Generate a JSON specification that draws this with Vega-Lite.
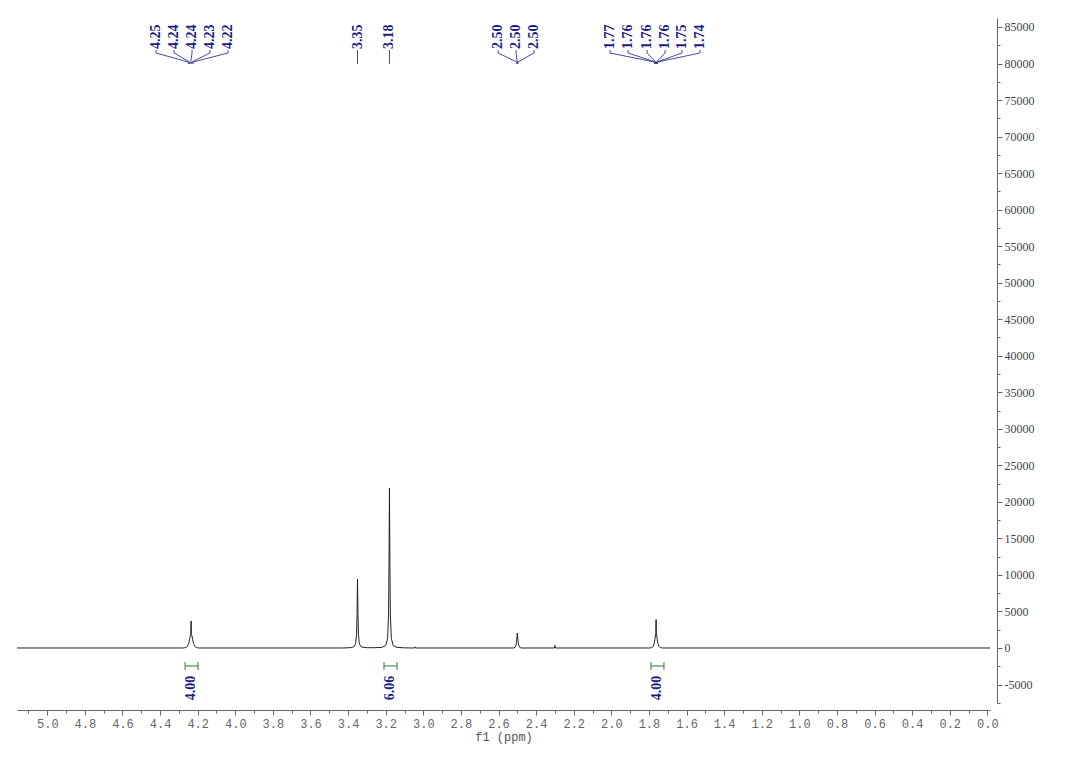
{
  "$schema": "https://vega.github.io/schema/vega-lite/v6.json",
  "width": 973,
  "height": 685,
  "autosize": {"type": "none"},
  "padding": {"left": 17, "top": 18, "right": 90, "bottom": 60},
  "background": "white",
  "config": {"view": {"stroke": null}},
  "datasets": {
    "spectrum": [
      {"ppm": 5.161, "v": 0},
      {"ppm": 4.275, "v": 0},
      {"ppm": 4.265, "v": 60},
      {"ppm": 4.255, "v": 200},
      {"ppm": 4.248, "v": 600},
      {"ppm": 4.243, "v": 1200},
      {"ppm": 4.239, "v": 1700},
      {"ppm": 4.2365, "v": 2000},
      {"ppm": 4.235, "v": 3700},
      {"ppm": 4.2335, "v": 2000},
      {"ppm": 4.231, "v": 1700},
      {"ppm": 4.227, "v": 1200},
      {"ppm": 4.222, "v": 600},
      {"ppm": 4.215, "v": 200},
      {"ppm": 4.205, "v": 60},
      {"ppm": 4.195, "v": 0},
      {"ppm": 3.430, "v": 0},
      {"ppm": 3.390, "v": 37},
      {"ppm": 3.370, "v": 145},
      {"ppm": 3.360, "v": 553},
      {"ppm": 3.355, "v": 1880},
      {"ppm": 3.3525, "v": 4700},
      {"ppm": 3.350, "v": 9400},
      {"ppm": 3.3475, "v": 4700},
      {"ppm": 3.345, "v": 1880},
      {"ppm": 3.340, "v": 553},
      {"ppm": 3.330, "v": 145},
      {"ppm": 3.300, "v": 40},
      {"ppm": 3.260, "v": 40},
      {"ppm": 3.220, "v": 85},
      {"ppm": 3.200, "v": 337},
      {"ppm": 3.190, "v": 1290},
      {"ppm": 3.185, "v": 4380},
      {"ppm": 3.1825, "v": 10950},
      {"ppm": 3.180, "v": 21900},
      {"ppm": 3.1775, "v": 10950},
      {"ppm": 3.175, "v": 4380},
      {"ppm": 3.170, "v": 1290},
      {"ppm": 3.160, "v": 337},
      {"ppm": 3.140, "v": 85},
      {"ppm": 3.100, "v": 20},
      {"ppm": 3.060, "v": 0},
      {"ppm": 3.047, "v": 0},
      {"ppm": 3.044, "v": 150},
      {"ppm": 3.041, "v": 0},
      {"ppm": 2.520, "v": 0},
      {"ppm": 2.512, "v": 100},
      {"ppm": 2.507, "v": 400},
      {"ppm": 2.504, "v": 900},
      {"ppm": 2.502, "v": 1500},
      {"ppm": 2.500, "v": 2050},
      {"ppm": 2.498, "v": 1500},
      {"ppm": 2.496, "v": 900},
      {"ppm": 2.493, "v": 400},
      {"ppm": 2.488, "v": 100},
      {"ppm": 2.480, "v": 0},
      {"ppm": 2.303, "v": 0},
      {"ppm": 2.300, "v": 350},
      {"ppm": 2.297, "v": 0},
      {"ppm": 1.795, "v": 0},
      {"ppm": 1.785, "v": 60},
      {"ppm": 1.777, "v": 200},
      {"ppm": 1.772, "v": 600},
      {"ppm": 1.768, "v": 1200},
      {"ppm": 1.765, "v": 1800},
      {"ppm": 1.7635, "v": 2100},
      {"ppm": 1.762, "v": 3900},
      {"ppm": 1.7605, "v": 2100},
      {"ppm": 1.759, "v": 1800},
      {"ppm": 1.756, "v": 1200},
      {"ppm": 1.752, "v": 600},
      {"ppm": 1.746, "v": 200},
      {"ppm": 1.738, "v": 60},
      {"ppm": 1.728, "v": 0},
      {"ppm": -0.014, "v": 0}
    ],
    "peaks": [
      {"label": "4.25", "lx": 4.4216, "px": 4.250},
      {"label": "4.24", "lx": 4.3258, "px": 4.243},
      {"label": "4.24", "lx": 4.2301, "px": 4.237},
      {"label": "4.23", "lx": 4.1343, "px": 4.231},
      {"label": "4.22", "lx": 4.0386, "px": 4.224},
      {"label": "3.35", "lx": 3.350, "px": 3.350},
      {"label": "3.18", "lx": 3.180, "px": 3.180},
      {"label": "2.50", "lx": 2.602, "px": 2.503},
      {"label": "2.50", "lx": 2.507, "px": 2.500},
      {"label": "2.50", "lx": 2.411, "px": 2.497},
      {"label": "1.77", "lx": 2.007, "px": 1.770},
      {"label": "1.76", "lx": 1.911, "px": 1.767},
      {"label": "1.76", "lx": 1.810, "px": 1.764},
      {"label": "1.76", "lx": 1.714, "px": 1.760},
      {"label": "1.75", "lx": 1.624, "px": 1.757},
      {"label": "1.74", "lx": 1.528, "px": 1.754}
    ],
    "integrals": [
      {"label": "4.00", "cx": 4.235, "x1": 4.267, "x2": 4.198},
      {"label": "6.06", "cx": 3.177, "x1": 3.209, "x2": 3.140},
      {"label": "4.00", "cx": 1.757, "x1": 1.789, "x2": 1.720}
    ]
  },
  "layer": [
    {
      "data": {"name": "spectrum"},
      "mark": {"type": "line", "color": "#222222", "strokeWidth": 1, "interpolate": "linear"},
      "encoding": {
        "x": {
          "field": "ppm", "type": "quantitative", "sort": null,
          "scale": {"domain": [5.161, -0.014], "nice": false, "zero": false},
          "axis": {
            "orient": "bottom", "offset": 7, "tickCount": 200,
            "values": [5.1, 5.0, 4.9, 4.8, 4.7, 4.6, 4.5, 4.4, 4.3, 4.2, 4.1, 4.0, 3.9, 3.8, 3.7, 3.6, 3.5, 3.4, 3.3, 3.2, 3.1, 3.0, 2.9, 2.8, 2.7, 2.6, 2.5, 2.4, 2.3, 2.2, 2.1, 2.0, 1.9, 1.8, 1.7, 1.6, 1.5, 1.4, 1.3, 1.2, 1.1, 1.0, 0.9, 0.8, 0.7, 0.6, 0.5, 0.4, 0.3, 0.2, 0.1, 0.0],
            "labelExpr": "abs(datum.value*5 - round(datum.value*5)) < 0.01 ? format(datum.value, '.1f') : ''",
            "tickSize": {"condition": {"test": "abs(datum.value*5 - round(datum.value*5)) < 0.01", "value": 5}, "value": 3},
            "labelFont": "Liberation Mono", "labelFontSize": 12, "labelColor": "#666666",
            "labelOverlap": false, "labelFlush": false, "labelBound": false, "labelPadding": 3,
            "title": "f1 (ppm)", "titleFont": "Liberation Mono", "titleFontSize": 12, "titleFontWeight": "normal", "titleColor": "#555555", "titlePadding": 2,
            "domainColor": "#666666", "tickColor": "#666666", "grid": false
          }
        },
        "y": {
          "field": "v", "type": "quantitative",
          "scale": {"domain": [-7530, 86230], "nice": false, "zero": false},
          "axis": {
            "orient": "right", "offset": 7, "tickCount": 200,
            "values": [-7500, -5000, -2500, 0, 2500, 5000, 7500, 10000, 12500, 15000, 17500, 20000, 22500, 25000, 27500, 30000, 32500, 35000, 37500, 40000, 42500, 45000, 47500, 50000, 52500, 55000, 57500, 60000, 62500, 65000, 67500, 70000, 72500, 75000, 77500, 80000, 82500, 85000],
            "labelExpr": "datum.value % 5000 == 0 ? '' + datum.value : ''",
            "tickSize": {"condition": {"test": "datum.value % 5000 == 0", "value": 5}, "value": 3},
            "labelFont": "Liberation Serif", "labelFontSize": 12, "labelColor": "#444444",
            "labelOverlap": false, "labelFlush": false, "labelBound": false, "labelPadding": 2,
            "title": null, "domainColor": "#666666", "tickColor": "#666666", "grid": false
          }
        }
      }
    },
    {
      "data": {"name": "peaks"},
      "mark": {"type": "text", "angle": 270, "align": "left", "baseline": "middle", "font": "Liberation Serif", "fontWeight": "bold", "fontSize": 14, "color": "#1c1c84"},
      "encoding": {
        "x": {"field": "lx", "type": "quantitative", "scale": {"domain": [5.161, -0.014], "nice": false, "zero": false}},
        "y": {"datum": 81990, "type": "quantitative", "scale": {"domain": [-7530, 86230], "nice": false, "zero": false}},
        "text": {"field": "label"}
      }
    },
    {
      "data": {"name": "peaks"},
      "mark": {"type": "rule", "color": "#1c1c84", "strokeWidth": 0.8},
      "encoding": {
        "x": {"field": "lx", "type": "quantitative", "scale": {"domain": [5.161, -0.014], "nice": false, "zero": false}},
        "y": {"datum": 81850, "type": "quantitative", "scale": {"domain": [-7530, 86230], "nice": false, "zero": false}},
        "y2": {"datum": 81440}
      }
    },
    {
      "data": {"name": "peaks"},
      "mark": {"type": "rule", "color": "#1c1c84", "strokeWidth": 0.8},
      "encoding": {
        "x": {"field": "lx", "type": "quantitative", "scale": {"domain": [5.161, -0.014], "nice": false, "zero": false}},
        "x2": {"field": "px"},
        "y": {"datum": 81440, "type": "quantitative", "scale": {"domain": [-7530, 86230], "nice": false, "zero": false}},
        "y2": {"datum": 80208}
      }
    },
    {
      "data": {"name": "peaks"},
      "mark": {"type": "rule", "color": "#1c1c84", "strokeWidth": 0.8},
      "encoding": {
        "x": {"field": "px", "type": "quantitative", "scale": {"domain": [5.161, -0.014], "nice": false, "zero": false}},
        "y": {"datum": 80208, "type": "quantitative", "scale": {"domain": [-7530, 86230], "nice": false, "zero": false}},
        "y2": {"datum": 79934}
      }
    },
    {
      "data": {"name": "integrals"},
      "mark": {"type": "rule", "color": "#2e7d32", "strokeWidth": 1},
      "encoding": {
        "x": {"field": "x1", "type": "quantitative", "scale": {"domain": [5.161, -0.014], "nice": false, "zero": false}},
        "x2": {"field": "x2"},
        "y": {"datum": -2460, "type": "quantitative", "scale": {"domain": [-7530, 86230], "nice": false, "zero": false}}
      }
    },
    {
      "data": {"name": "integrals"},
      "mark": {"type": "rule", "color": "#2e7d32", "strokeWidth": 1},
      "encoding": {
        "x": {"field": "x1", "type": "quantitative", "scale": {"domain": [5.161, -0.014], "nice": false, "zero": false}},
        "y": {"datum": -1920, "type": "quantitative", "scale": {"domain": [-7530, 86230], "nice": false, "zero": false}},
        "y2": {"datum": -3000}
      }
    },
    {
      "data": {"name": "integrals"},
      "mark": {"type": "rule", "color": "#2e7d32", "strokeWidth": 1},
      "encoding": {
        "x": {"field": "x2", "type": "quantitative", "scale": {"domain": [5.161, -0.014], "nice": false, "zero": false}},
        "y": {"datum": -1920, "type": "quantitative", "scale": {"domain": [-7530, 86230], "nice": false, "zero": false}},
        "y2": {"datum": -3000}
      }
    },
    {
      "data": {"name": "integrals"},
      "mark": {"type": "text", "angle": 270, "align": "center", "baseline": "middle", "font": "Liberation Serif", "fontWeight": "bold", "fontSize": 14, "color": "#1c1c84"},
      "encoding": {
        "x": {"field": "cx", "type": "quantitative", "scale": {"domain": [5.161, -0.014], "nice": false, "zero": false}},
        "y": {"datum": -5475, "type": "quantitative", "scale": {"domain": [-7530, 86230], "nice": false, "zero": false}},
        "text": {"field": "label"}
      }
    }
  ]
}
